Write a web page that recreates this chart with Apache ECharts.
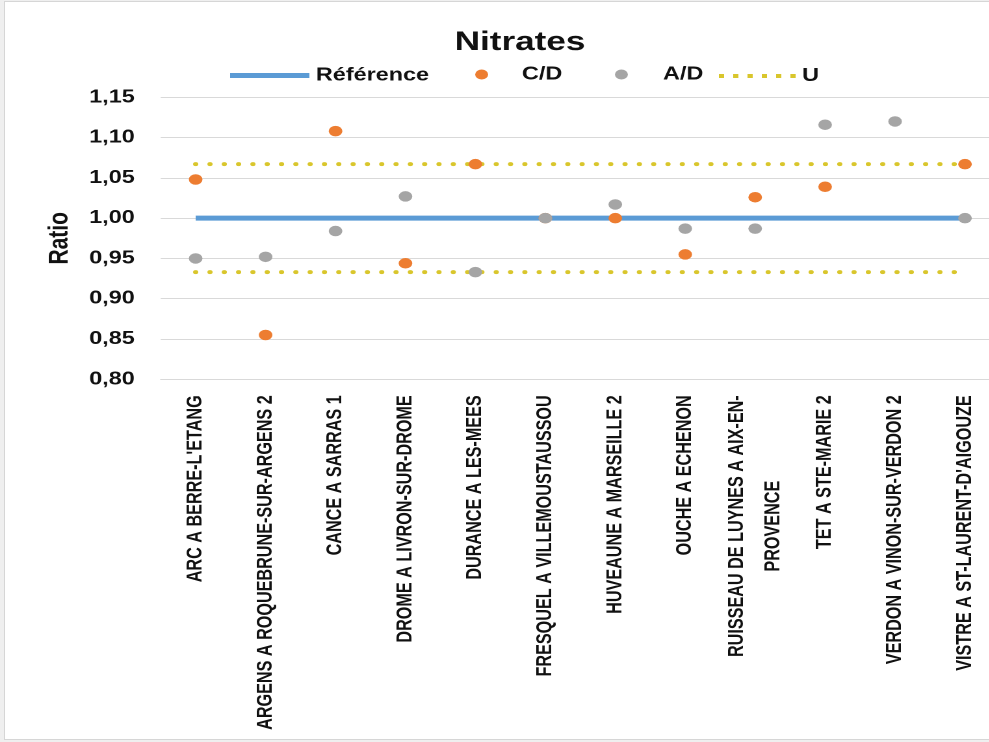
<!DOCTYPE html>
<html>
<head>
<meta charset="utf-8">
<script src="https://cdn.jsdelivr.net/npm/echarts@6/dist/echarts.min.js"></script>
<style>
  html, body { margin: 0; padding: 0; width: 989px; height: 742px; overflow: hidden; background: #efefef; }
  #frame { position: absolute; left: 4px; top: 1px; width: 1000px; height: 737px; background: #ffffff; border: 1px solid #d6d6d6; }
  /* The chart is laid out on a narrower canvas and widened horizontally */
  #chart { position: absolute; left: 0; top: 0; width: 761px; height: 742px; transform: scaleX(1.3); transform-origin: 0 0; }
</style>
</head>
<body>
<div id="frame"></div>
<div id="chart"></div>
<script>
// Monitoring stations (x axis tick labels)
const categories = [
  "ARC A BERRE-L'ETANG",
  "ARGENS A ROQUEBRUNE-SUR-ARGENS 2",
  "CANCE A SARRAS 1",
  "DROME A LIVRON-SUR-DROME",
  "DURANCE A LES-MEES",
  "FRESQUEL A VILLEMOUSTAUSSOU",
  "HUVEAUNE A MARSEILLE 2",
  "OUCHE A ECHENON",
  "RUISSEAU DE LUYNES A AIX-EN-\nPROVENCE",
  "TET A STE-MARIE 2",
  "VERDON A VINON-SUR-VERDON 2",
  "VISTRE A ST-LAURENT-D'AIGOUZE"
];

// Ratios per station
const reference = [1.00, 1.00, 1.00, 1.00, 1.00, 1.00, 1.00, 1.00, 1.00, 1.00, 1.00, 1.00];
const ratioCD = [1.048, 0.855, 1.108, 0.944, 1.067, 1.000, 1.000, 0.955, 1.026, 1.039, null, 1.067];
const ratioAD = [0.950, 0.952, 0.984, 1.027, 0.933, 1.000, 1.017, 0.987, 0.987, 1.116, 1.120, 1.000];

// Uncertainty band limits
const uUpper = [1.067, 1.067, 1.067, 1.067, 1.067, 1.067, 1.067, 1.067, 1.067, 1.067, 1.067, 1.067];
const uLower = [0.933, 0.933, 0.933, 0.933, 0.933, 0.933, 0.933, 0.933, 0.933, 0.933, 0.933, 0.933];

// Y axis range and step
const yMin = 0.80, yMax = 1.15, yStep = 0.05;

const FONT = "'Liberation Sans', Arial, sans-serif";
const BLUE = '#5B9BD5', ORANGE = '#ED7D31', GREY = '#A5A5A5', GOLD = '#D9C62C';
const INK = '#111111';

const labelText = { fontFamily: FONT, fontWeight: 'bold', fontSize: 16.2, color: INK };

const legendBase = {
  itemGap: 0, selectedMode: false, padding: 5,
  textStyle: { fontFamily: FONT, fontWeight: 'bold', fontSize: 18, color: INK }
};

// Six square dots for the legend swatch of the dotted band
const dotsIcon = 'path://M0,0h4v4h-4zM11,0h4v4h-4zM22,0h4v4h-4zM33,0h4v4h-4zM44,0h4v4h-4zM55,0h4v4h-4z';

const chart = echarts.init(document.getElementById('chart'), null, { renderer: 'canvas', devicePixelRatio: 2 });

chart.setOption({
  backgroundColor: 'transparent',
  animation: false,
  title: {
    text: 'Nitrates',
    left: 395, top: 24, textAlign: 'center',
    textStyle: { fontFamily: FONT, fontWeight: 'bold', fontSize: 27, color: INK }
  },
  legend: [
    Object.assign({}, legendBase, { data: [{ name: 'Référence', icon: 'rect' }], left: 172, top: 61.5, itemWidth: 61, itemHeight: 5 }),
    Object.assign({}, legendBase, { data: [{ name: 'C/D', icon: 'circle' }], left: 360.5, top: 60.5, itemWidth: 52, itemHeight: 10 }),
    Object.assign({}, legendBase, { data: [{ name: 'A/D', icon: 'circle' }], left: 468, top: 60.5, itemWidth: 54, itemHeight: 10 }),
    Object.assign({}, legendBase, { data: [{ name: 'U', icon: dotsIcon }], left: 548, top: 62, itemWidth: 59, itemHeight: 4 })
  ],
  grid: { left: 123.6, top: 97.3, width: 645.6, height: 282, outerBoundsMode: 'none', containLabel: false },
  xAxis: {
    type: 'category',
    data: categories,
    boundaryGap: true,
    axisLine: { show: true, lineStyle: { color: '#d9d9d9', width: 1 } },
    axisTick: { show: false },
    axisLabel: {
      interval: 0, rotate: 90, margin: 16,
      fontFamily: FONT, fontWeight: 'bold', fontSize: 16.2, color: INK, lineHeight: 28,
      formatter: function (v) {
        return v.split('\n').map(function (line, i) {
          return '{' + (i === 0 ? 'a' : 'b') + '|' + line + '}';
        }).join('\n');
      },
      rich: {
        a: Object.assign({ lineHeight: 28 }, labelText),
        b: Object.assign({ lineHeight: 28, align: 'center' }, labelText)
      }
    }
  },
  yAxis: {
    type: 'value',
    min: yMin, max: yMax, interval: yStep,
    name: 'Ratio',
    nameLocation: 'middle',
    nameGap: 67,
    nameRotate: 90,
    nameTextStyle: { fontFamily: FONT, fontWeight: 'bold', fontSize: 21, color: INK },
    axisLine: { show: false },
    axisTick: { show: false },
    splitLine: { show: true, lineStyle: { color: '#d9d9d9', width: 1 } },
    axisLabel: {
      margin: 20,
      fontFamily: FONT, fontWeight: 'bold', fontSize: 18, color: INK,
      formatter: function (v) { return v.toFixed(2).replace('.', ','); }
    }
  },
  series: [
    {
      name: 'U', type: 'line', data: uUpper, symbol: 'none', z: 1,
      itemStyle: { color: GOLD },
      lineStyle: { color: GOLD, width: 4, type: [0.01, 11], cap: 'round' }
    },
    {
      name: 'U', type: 'line', data: uLower, symbol: 'none', z: 1,
      itemStyle: { color: GOLD },
      lineStyle: { color: GOLD, width: 4, type: [0.01, 11], cap: 'round' }
    },
    {
      name: 'Référence', type: 'line', data: reference, symbol: 'none', z: 2,
      itemStyle: { color: BLUE },
      lineStyle: { color: BLUE, width: 5 }
    },
    {
      name: 'C/D', type: 'scatter', data: ratioCD, symbol: 'circle', symbolSize: 10.5, z: 3,
      itemStyle: { color: ORANGE, opacity: 1 }
    },
    {
      name: 'A/D', type: 'scatter', data: ratioAD, symbol: 'circle', symbolSize: 10.5, z: 4,
      itemStyle: { color: GREY, opacity: 1 }
    }
  ]
});
</script>
</body>
</html>
